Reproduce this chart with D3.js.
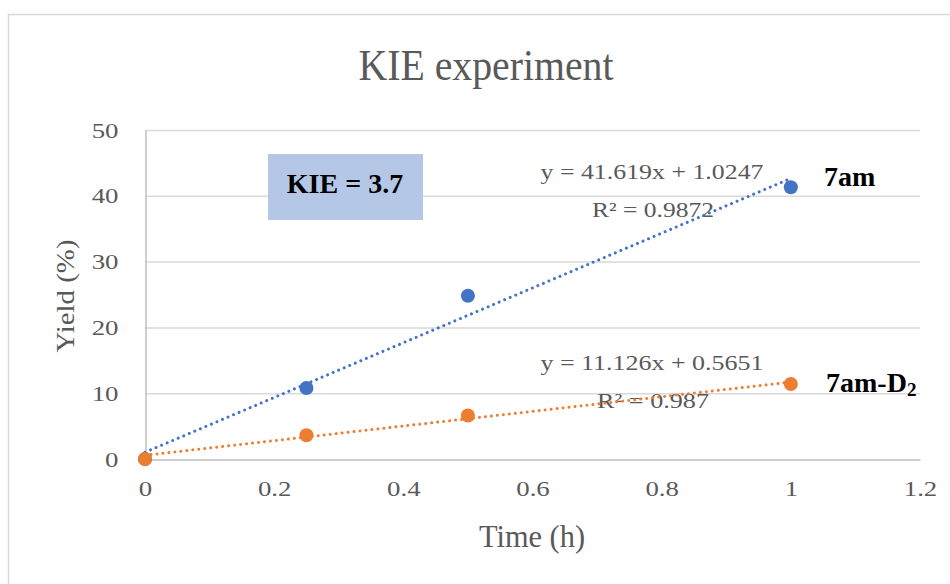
<!doctype html>
<html>
  <head>
    <meta charset="utf-8">
    <script src="https://d3js.org/d3.v7.min.js"></script>
    <style>
      body { margin: 0; background: #fff; }
    </style>
  </head>
  <body>
    <script>
    // data
    var times = [0, 0.25, 0.5, 1];
    var yieldH = [0, 10.8, 24.8, 41.3];   // 7am
    var yieldD = [0, 3.6, 6.6, 11.4];     // 7am-D2
    var seriesNames = ["7am", "7am-D\u2082"];
    var slopes = [41.619, 11.126];
    var intercepts = [1.0247, 0.5651];
    var eqLabels = ["y = 41.619x + 1.0247", "y = 11.126x + 0.5651"];
    var r2Labels = ["R\u00b2 = 0.9872", "R\u00b2 = 0.987"];
    var xTicks = [0, 0.2, 0.4, 0.6, 0.8, 1, 1.2];
    var yTicks = [0, 10, 20, 30, 40, 50];
    var colors = ["#4472c4", "#ed7d31"];

    var width = 950;
    var height = 584;

    var svg = d3.select("body")
              .append("svg")
              .attr("width", width)
              .attr("height", height);

    // chart frame (cropped screenshot edge)
    svg.append("path")
      .attr("d", "M8.5,584 V14.5 H950")
      .attr("fill", "none")
      .attr("stroke", "#d9d9d9")
      .attr("stroke-width", 1.5);

    var x = d3.scaleLinear().domain([0, 1.2]).range([145, 920]);
    var y = d3.scaleLinear().domain([0, 50]).range([459, 130]);

    var serif = "'Liberation Serif', 'Times New Roman', serif";

    // stretch text sideways to get the wide mincho-like look
    function widen(sel, k) {
      sel.each(function() {
        var l = this.getComputedTextLength();
        d3.select(this)
          .attr("textLength", l * k)
          .attr("lengthAdjust", "spacingAndGlyphs");
      });
    }

    // gridlines
    svg.append("g")
      .selectAll("line")
      .data(yTicks.filter(function(d) { return d > 0; }))
      .enter()
      .append("line")
      .attr("x1", x(0))
      .attr("x2", x(1.2))
      .attr("y1", function(d) { return y(d) + 0.5; })
      .attr("y2", function(d) { return y(d) + 0.5; })
      .attr("stroke", "#d9d9d9")
      .attr("stroke-width", 1.5);

    // axes
    var xAxis = d3.axisBottom(x).tickValues(xTicks).tickSize(0).tickPadding(17)
      .tickFormat(function(d) { return String(d); });
    var gx = svg.append("g")
      .attr("transform", "translate(0," + (y(0) + 0.5) + ")")
      .call(xAxis);
    gx.select(".domain").attr("stroke", "#bfbfbf").attr("stroke-width", 1.5);

    var yAxis = d3.axisLeft(y).tickValues(yTicks).tickSize(0).tickPadding(27);
    var gy = svg.append("g")
      .attr("transform", "translate(" + (x(0) + 0.5) + ",0)")
      .call(yAxis);
    gy.select(".domain").attr("stroke", "#bfbfbf").attr("stroke-width", 1.5);

    svg.selectAll(".tick text")
      .attr("fill", "#595959")
      .attr("font-family", serif)
      .attr("font-size", "22px");
    gx.selectAll(".tick text").attr("dy", "0.9em");
    widen(svg.selectAll(".tick text"), 1.22);

    // titles
    svg.append("text")
      .attr("x", 486)
      .attr("y", 80)
      .attr("text-anchor", "middle")
      .attr("fill", "#595959")
      .attr("font-family", serif)
      .attr("font-size", "45px")
      .attr("textLength", 255)
      .attr("lengthAdjust", "spacingAndGlyphs")
      .text("KIE experiment");

    svg.append("text")
      .attr("x", 532)
      .attr("y", 547)
      .attr("text-anchor", "middle")
      .attr("fill", "#595959")
      .attr("font-family", serif)
      .attr("font-size", "32px")
      .attr("textLength", 106)
      .attr("lengthAdjust", "spacingAndGlyphs")
      .text("Time (h)");

    svg.append("text")
      .attr("transform", "translate(74,296) rotate(-90)")
      .attr("text-anchor", "middle")
      .attr("fill", "#595959")
      .attr("font-family", serif)
      .attr("font-size", "26px")
      .attr("textLength", 113)
      .attr("lengthAdjust", "spacingAndGlyphs")
      .text("Yield (%)");

    // KIE box
    svg.append("rect")
      .attr("x", 268)
      .attr("y", 154)
      .attr("width", 155)
      .attr("height", 66)
      .attr("fill", "#b4c7e7");
    svg.append("text")
      .attr("x", 345)
      .attr("y", 193)
      .attr("text-anchor", "middle")
      .attr("font-family", serif)
      .attr("font-weight", "bold")
      .attr("font-size", "28px")
      .attr("fill", "#000")
      .text("KIE = 3.7");

    // trendline labels
    var eqPos = [[652, 179, 653, 217], [652, 370, 653, 408]];
    var r2Widths = [122, 112];
    eqLabels.forEach(function(t, i) {
      svg.append("text")
        .attr("x", eqPos[i][0])
        .attr("y", eqPos[i][1])
        .attr("text-anchor", "middle")
        .attr("fill", "#595959")
        .attr("font-family", serif)
        .attr("font-size", "21px")
        .attr("textLength", 223)
        .attr("lengthAdjust", "spacingAndGlyphs")
        .text(t);
      svg.append("text")
        .attr("x", eqPos[i][2])
        .attr("y", eqPos[i][3])
        .attr("text-anchor", "middle")
        .attr("fill", "#595959")
        .attr("font-family", serif)
        .attr("font-size", "21px")
        .attr("textLength", r2Widths[i])
        .attr("lengthAdjust", "spacingAndGlyphs")
        .text(r2Labels[i]);
    });

    // trendlines
    var line = d3.line()
      .x(function(d) { return x(d[0]); })
      .y(function(d) { return y(d[1]); });

    slopes.forEach(function(m, i) {
      var pts = [0, 1].map(function(t) { return [t, m * t + intercepts[i]]; });
      svg.append("path")
        .datum(pts)
        .attr("d", line)
        .attr("fill", "none")
        .attr("stroke", colors[i])
        .attr("stroke-width", 3)
        .attr("stroke-linecap", "round")
        .attr("stroke-dasharray", "0.01 6");
    });

    // points
    [yieldH, yieldD].forEach(function(vals, i) {
      svg.append("g")
        .selectAll("circle")
        .data(vals)
        .enter()
        .append("circle")
        .attr("cx", function(d, j) { return x(times[j]); })
        .attr("cy", function(d) { return y(d); })
        .attr("r", 7)
        .attr("fill", colors[i]);
    });

    // series names
    var namePos = [[824, 186], [826, 392]];
    seriesNames.forEach(function(n, i) {
      var t = svg.append("text")
        .attr("x", namePos[i][0])
        .attr("y", namePos[i][1])
        .attr("font-family", serif)
        .attr("font-weight", "bold")
        .attr("font-size", "28px")
        .attr("fill", "#000");
      if (i === 1) {
        t.append("tspan").text("7am-D");
        t.append("tspan").attr("font-size", "19px").attr("dy", 4).text("2");
      } else {
        t.text(n);
      }
    });
    </script>
  </body>
</html>
